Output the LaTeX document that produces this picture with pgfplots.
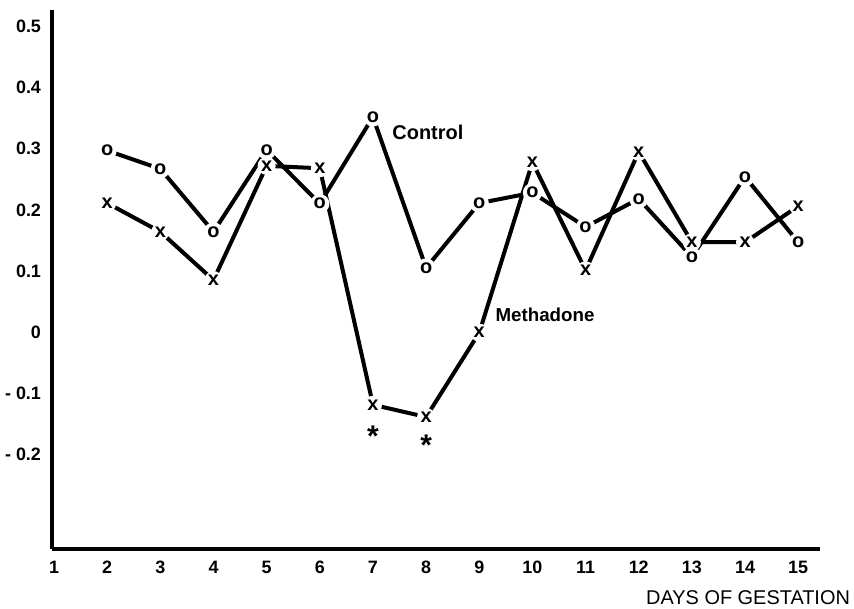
\documentclass[border=0pt]{standalone}
\usepackage{fontspec}
\setmainfont{Liberation Sans}
\usepackage{pgfplots}
\pgfplotsset{compat=1.18}

\begin{document}
\begin{tikzpicture}
\begin{axis}[
  scale only axis,
  width=384bp, height=269.5bp,
  xmin=0.962, xmax=15.41,
  ymin=-0.355, ymax=0.527,
  axis lines=left,
  axis line style={-, line width=2.3bp},
  clip=false,
  xtick={1,...,15},
  ytick={-0.2,-0.1,0,0.1,0.2,0.3,0.4,0.5},
  yticklabels={- 0.2,- 0.1,0,0.1,0.2,0.3,0.4,0.5},
  major tick length=0pt,
  /pgf/number format/assume math mode=true,
  tick label style={font=\bfseries\fontsize{9}{10}\selectfont},
  xticklabel style={yshift=-2.5bp},
  yticklabel style={xshift=-2bp},
]
\coordinate (o) at (rel axis cs:0,0);

% Control
\addplot[line width=2bp, mark=text, text mark={o}, text mark as node=true,
  text mark style={font=\bfseries\fontsize{10}{10}\selectfont, fill=white, circle, inner sep=0.5pt}]
  coordinates {(2,0.297)(3,0.267)(4,0.164)(5,0.298)(6,0.210)(7,0.352)(8,0.105)
               (9,0.211)(10,0.228)(11,0.172)(12,0.218)(13,0.123)(14,0.254)(15,0.147)};

% Methadone
\addplot[line width=2bp, mark=text, text mark={x}, text mark as node=true,
  text mark style={font=\bfseries\fontsize{10}{10}\selectfont, fill=white, circle, inner sep=0.5pt}]
  coordinates {(2,0.211)(3,0.164)(4,0.085)(5,0.272)(6,0.268)(7,-0.119)(8,-0.139)
               (9,-0.001)(10,0.278)(11,0.101)(12,0.295)(13,0.147)(14,0.147)(15,0.206)};

\node[anchor=west, inner sep=0pt, font=\bfseries\fontsize{10}{11}\selectfont] at (axis cs:7.36,0.326) {Control};
\node[anchor=west, inner sep=0pt, font=\bfseries\fontsize{9.4}{11}\selectfont] at (axis cs:9.30,0.028) {Methadone};
\node[font=\bfseries\fontsize{15}{15}\selectfont] at (axis cs:7,-0.170) {*};
\node[font=\bfseries\fontsize{15}{15}\selectfont] at (axis cs:8,-0.185) {*};
\node[anchor=east, inner sep=0pt, font=\fontsize{10}{11}\selectfont] at (axis cs:15.98,-0.435) {DAYS OF GESTATION};
\end{axis}
\pgfresetboundingbox
\path (o) ++(-26bp,-30bp) rectangle ++(427bp,304.5bp);
\end{tikzpicture}
\end{document}
